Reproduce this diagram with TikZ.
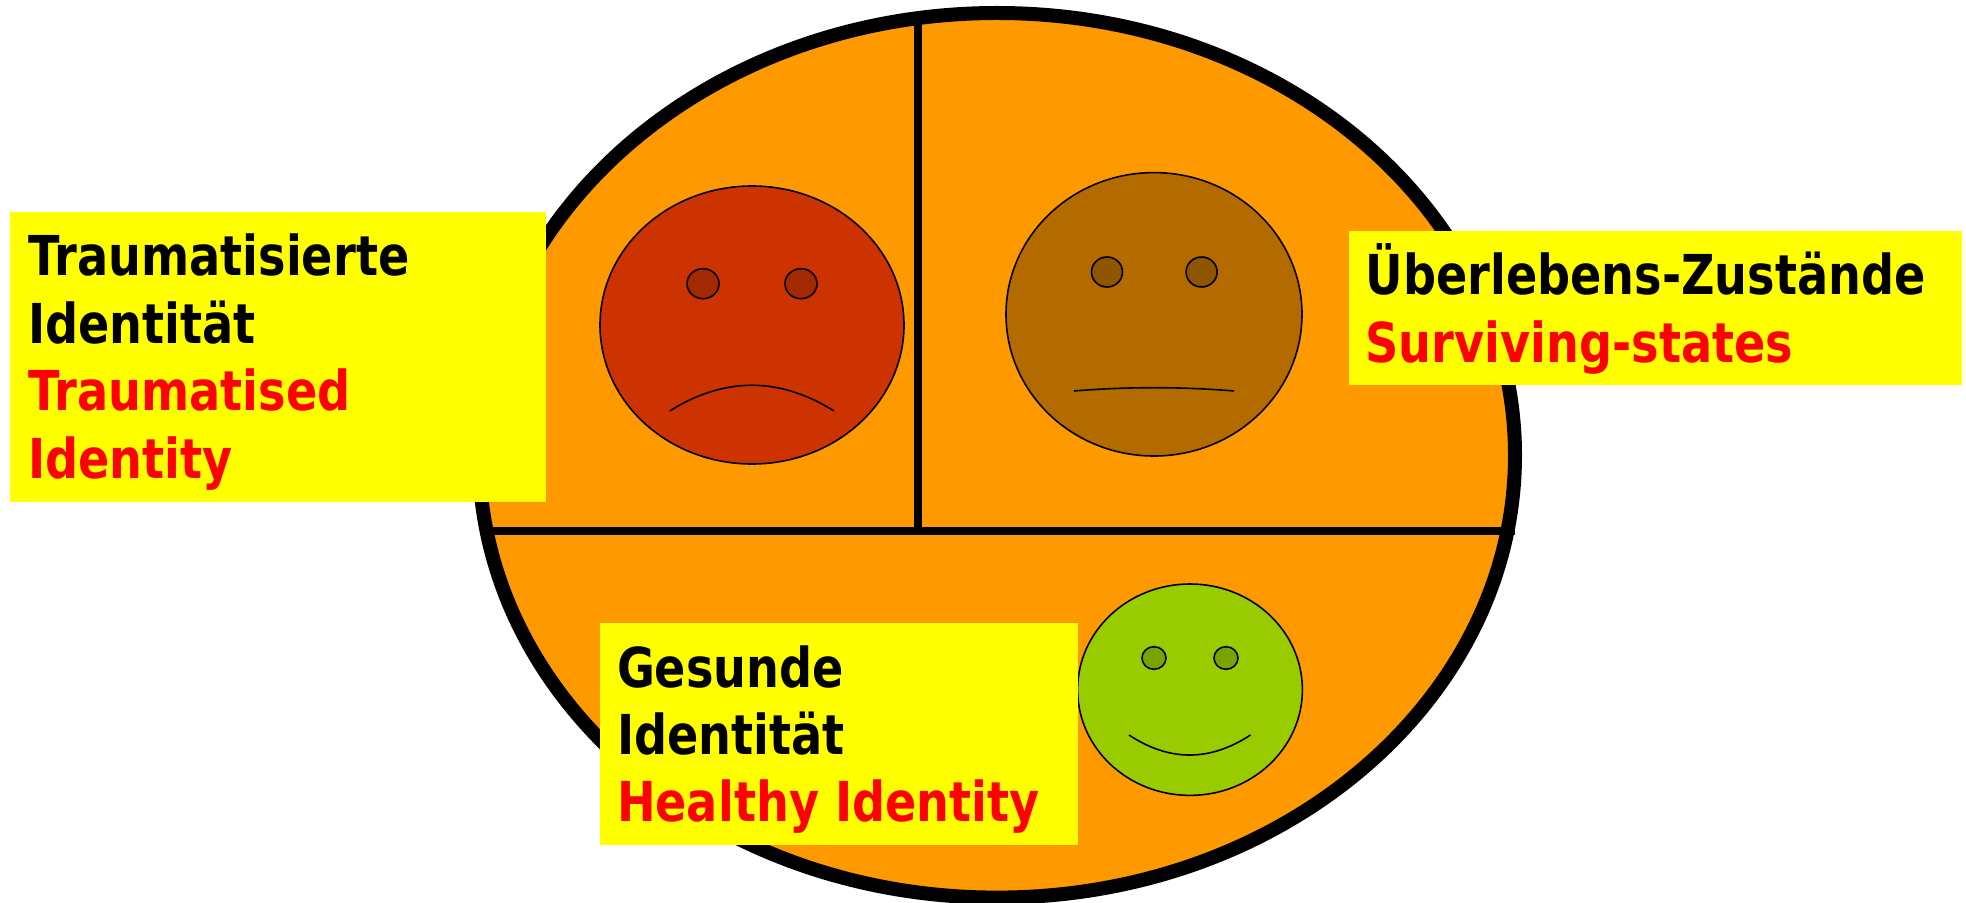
\documentclass[tikz,border=0pt]{standalone}
\usepackage{fontspec}
\usetikzlibrary{shapes.geometric}
\setmainfont{DejaVu Sans}[FakeStretch=0.84]
\definecolor{ringfill}{HTML}{FF9900}
\definecolor{redface}{HTML}{CC3300}
\definecolor{redeye}{HTML}{A32900}
\definecolor{brownface}{HTML}{B36B00}
\definecolor{browneye}{HTML}{8F5600}
\definecolor{greenface}{HTML}{99CC00}
\definecolor{greeneye}{HTML}{7AA300}
\definecolor{labelbg}{HTML}{FFFF00}
\definecolor{redtext}{HTML}{FF0000}
\tikzset{
  x=0.5pt,y=-0.5pt,
  ring/.style={ellipse,draw=black,fill=ringfill,line width=7pt,inner sep=0,outer sep=0,minimum width=518pt,minimum height=442.3pt},
  divider/.style={draw=black,line width=4pt},
  face/.style={ellipse,draw=black,line width=0.8pt,inner sep=0,outer sep=0},
  mouth/.style={draw=black,line width=0.8pt},
  labelbox/.style={rectangle,fill=labelbg,inner sep=0,outer sep=0,anchor=north west},
  de/.style={anchor=base west,inner sep=0,outer sep=0,text=black,font=\bfseries\fontsize{27.5pt}{33.75pt}\selectfont},
  en/.style={de,text=redtext}
}
\begin{document}
\begin{tikzpicture}
\useasboundingbox (0,0) rectangle (1966,903);
\node[ring] (outer) at (997,455.3) {};
\coordinate (vtop) at (918,20);
\coordinate (vbot) at (918,531);
\coordinate (hleft) at (493,531);
\coordinate (hright) at (1515,531);
\draw[divider] (vtop) -- (vbot);
\draw[divider] (hleft) -- (hright);
% red face
\node[face,fill=redface,minimum width=152pt,minimum height=139pt] (redf) at (752,325) {};
\node[face,fill=redeye,minimum width=16pt,minimum height=15pt] (redl) at (703,283.7) {};
\node[face,fill=redeye,minimum width=16pt,minimum height=15pt] (redr) at (801,283.7) {};
\coordinate (rm1) at (669.7,411); \coordinate (rmc1) at (724.4,376.7); \coordinate (rmc2) at (779.4,376.7); \coordinate (rm2) at (834,411);
\draw[mouth] (rm1) .. controls (rmc1) and (rmc2) .. (rm2);
% brown face
\node[face,fill=brownface,minimum width=148pt,minimum height=141.7pt] (brf) at (1154,314.3) {};
\node[face,fill=browneye,minimum width=15.5pt,minimum height=15pt] (brl) at (1107,272) {};
\node[face,fill=browneye,minimum width=15.5pt,minimum height=15pt] (brr) at (1201.6,272) {};
\coordinate (bm1) at (1074,391); \coordinate (bmc1) at (1127,386.6); \coordinate (bmc2) at (1181,386.6); \coordinate (bm2) at (1234,391);
\draw[mouth] (bm1) .. controls (bmc1) and (bmc2) .. (bm2);
% green face
\node[face,fill=greenface,minimum width=112.4pt,minimum height=105.7pt] (grf) at (1190,689.7) {};
\node[face,fill=greeneye,minimum width=12pt,minimum height=11.3pt] (grl) at (1154,658) {};
\node[face,fill=greeneye,minimum width=12pt,minimum height=11.3pt] (grr) at (1226,658) {};
\coordinate (gm1) at (1129,735); \coordinate (gmc1) at (1169.4,761.7); \coordinate (gmc2) at (1209.7,761.7); \coordinate (gm2) at (1250.5,735);
\draw[mouth] (gm1) .. controls (gmc1) and (gmc2) .. (gm2);
% labels
\node[labelbox,minimum width=267.75pt,minimum height=144.85pt] (box1) at (10,212) {};
\node[de] (t1) at (28,276) {Traumatisierte};
\node[de] (t2) at (28,343.5) {Identität};
\node[en] (t3) at (28,411) {Traumatised};
\node[en] (t4) at (28,478.3) {Identity};
\node[labelbox,minimum width=306.5pt,minimum height=77pt] (box2) at (1349,231) {};
\node[de] (t5) at (1365.5,295) {Überlebens-Zustände};
\node[en] (t6) at (1365.5,362.7) {Surviving-states};
\node[labelbox,minimum width=239pt,minimum height=111pt] (box3) at (600,623) {};
\node[de] (t7) at (617,687) {Gesunde};
\node[de] (t8) at (617,754.3) {Identität};
\node[en] (t9) at (617,821.7) {Healthy Identity};
\end{tikzpicture}
\end{document}
